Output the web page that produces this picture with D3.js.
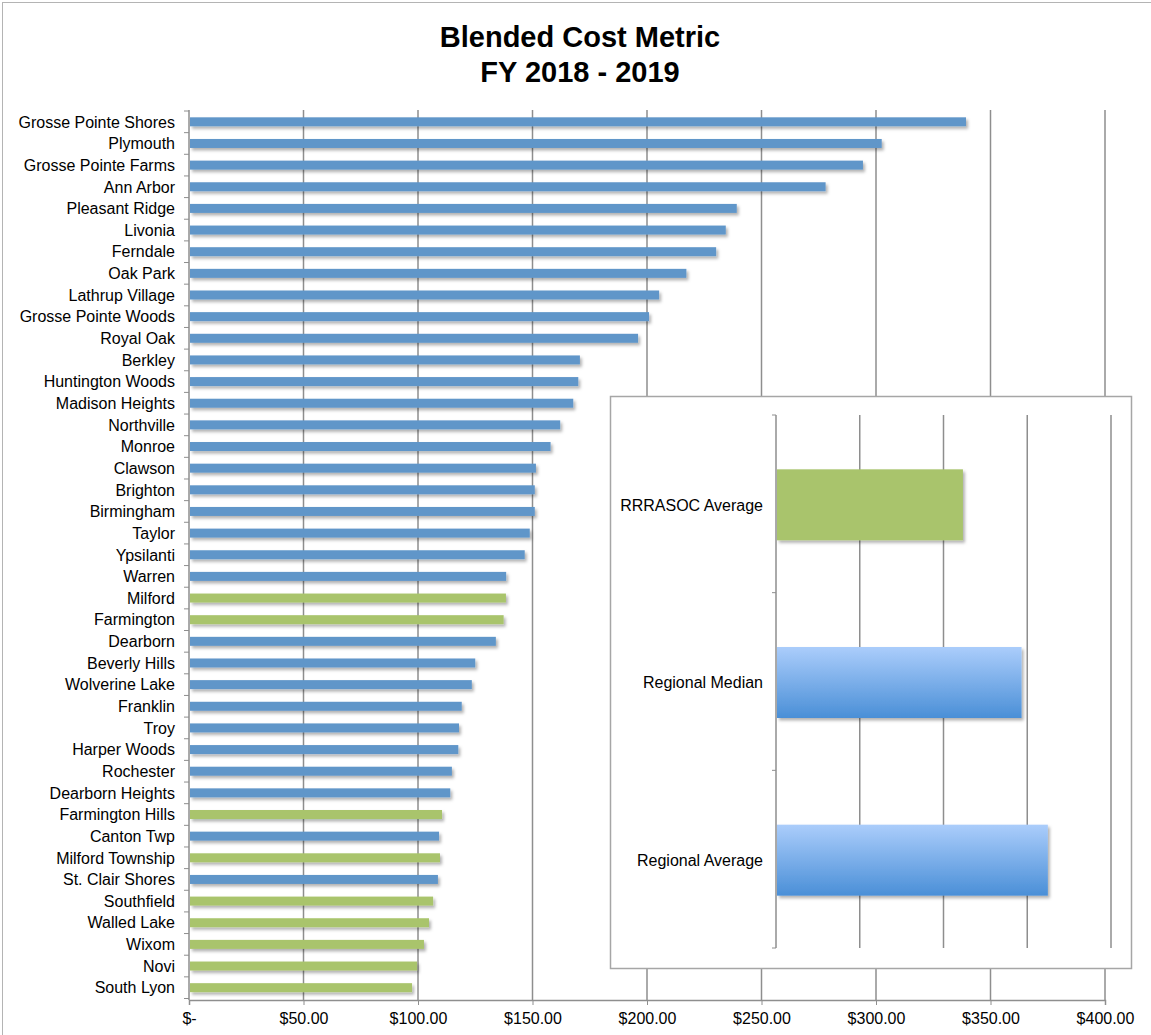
<!DOCTYPE html>
<html>
<head>
<meta charset="utf-8">
<script src="https://cdn.jsdelivr.net/npm/d3@7"></script>
<style>
  body { margin: 0; background: #fff; }
  text { font-family: "Liberation Sans", Arial, sans-serif; fill: #000; }
</style>
</head>
<body>
<div id="chart"></div>
<script>
var width = 1151;
var height = 1035;

// main chart data (top to bottom)
var cities = [
	"Grosse Pointe Shores", "Plymouth", "Grosse Pointe Farms", "Ann Arbor", "Pleasant Ridge",
	"Livonia", "Ferndale", "Oak Park", "Lathrup Village", "Grosse Pointe Woods",
	"Royal Oak", "Berkley", "Huntington Woods", "Madison Heights", "Northville",
	"Monroe", "Clawson", "Brighton", "Birmingham", "Taylor",
	"Ypsilanti", "Warren", "Milford", "Farmington", "Dearborn",
	"Beverly Hills", "Wolverine Lake", "Franklin", "Troy", "Harper Woods",
	"Rochester", "Dearborn Heights", "Farmington Hills", "Canton Twp", "Milford Township",
	"St. Clair Shores", "Southfield", "Walled Lake", "Wixom", "Novi", "South Lyon"
];
var costs = [
	339.3, 302.5, 294.3, 278.0, 239.2,
	234.4, 230.2, 217.2, 205.3, 200.9,
	196.1, 170.7, 170.0, 167.8, 162.1,
	157.9, 151.5, 151.0, 151.0, 148.8,
	146.6, 138.5, 138.4, 137.4, 134.0,
	125.0, 123.5, 119.1, 117.9, 117.6,
	114.8, 114.1, 110.5, 109.2, 109.6,
	108.7, 106.6, 104.8, 102.6, 99.6, 97.4
];
// RRRASOC members are drawn green
var members = ["Milford", "Farmington", "Farmington Hills", "Milford Township",
	"Southfield", "Walled Lake", "Wixom", "Novi", "South Lyon"];
var xTicks = [0, 50, 100, 150, 200, 250, 300, 350, 400];

// inset chart data
var summaryLabels = ["RRRASOC Average", "Regional Median", "Regional Average"];
var summaryValues = [111.6, 146.6, 162.3];
var insetTicks = [0, 50, 100, 150, 200];

var blue = "#6096c9";
var green = "#a9c46c";
var grid = "#8e8e8e";

var svg = d3.select("#chart")
	.append("svg")
	.attr("width", width)
	.attr("height", height);

var defs = svg.append("defs");
defs.append("filter")
	.attr("id", "shadow")
	.attr("x", "-5%").attr("y", "-50%")
	.attr("width", "115%").attr("height", "250%")
	.append("feDropShadow")
	.attr("dx", 2).attr("dy", 2.5)
	.attr("stdDeviation", 1.5)
	.attr("flood-color", "#000")
	.attr("flood-opacity", 0.3);

var grad = defs.append("linearGradient")
	.attr("id", "blueGrad")
	.attr("x1", 0).attr("y1", 0).attr("x2", 0).attr("y2", 1);
grad.append("stop").attr("offset", "0%").attr("stop-color", "#abcdfb");
grad.append("stop").attr("offset", "100%").attr("stop-color", "#4a8fd7");

// outer frame
svg.append("rect")
	.attr("x", 2.5).attr("y", 2.5)
	.attr("width", 1150).attr("height", 1040)
	.attr("fill", "#fff")
	.attr("stroke", "#b4b4b4")
	.attr("stroke-width", 1);

// title
svg.append("text")
	.attr("x", 580).attr("y", 47)
	.attr("text-anchor", "middle")
	.style("font-size", "29px").style("font-weight", "bold")
	.text("Blended Cost Metric");
svg.append("text")
	.attr("x", 580).attr("y", 82)
	.attr("text-anchor", "middle")
	.style("font-size", "29px").style("font-weight", "bold")
	.text("FY 2018 - 2019");

// ---- main chart ----
var plotLeft = 189, plotRight = 1105, plotTop = 111, plotBottom = 1000;

var x = d3.scaleLinear().domain([0, 400]).range([plotLeft, plotRight]);
var y = d3.scaleBand().domain(cities).range([plotTop, plotBottom - 1.5]).padding(0);

var main = svg.append("g");

main.selectAll(".grid")
	.data(xTicks.slice(1))
	.enter()
	.append("line")
	.attr("x1", function(d){ return x(d); })
	.attr("x2", function(d){ return x(d); })
	.attr("y1", plotTop - 1)
	.attr("y2", plotBottom)
	.attr("stroke", grid)
	.attr("stroke-width", 1.5);

var xAxis = d3.axisBottom(x)
	.tickValues(xTicks)
	.tickSize(5)
	.tickPadding(8)
	.tickFormat(function(d){ return d === 0 ? "$-" : "$" + d3.format(".2f")(d); });

var gx = main.append("g")
	.attr("transform", "translate(0," + plotBottom + ")")
	.call(xAxis);
gx.select(".domain").attr("stroke", grid).attr("stroke-width", 1.5);
gx.selectAll(".tick line").attr("stroke", grid);
gx.selectAll(".tick text").style("font-size", "16px").attr("fill", "#000");

// y axis: ticks sit on band boundaries
var gy = main.append("g");
gy.append("line")
	.attr("x1", plotLeft).attr("x2", plotLeft)
	.attr("y1", plotTop - 1).attr("y2", plotBottom)
	.attr("stroke", grid).attr("stroke-width", 1.5);
gy.selectAll(".ytick")
	.data(cities)
	.enter()
	.append("line")
	.attr("x1", plotLeft - 5).attr("x2", plotLeft)
	.attr("y1", function(d){ return y(d); })
	.attr("y2", function(d){ return y(d); })
	.attr("stroke", grid);
gy.append("line")
	.attr("x1", plotLeft - 5).attr("x2", plotLeft)
	.attr("y1", plotBottom - 1.5).attr("y2", plotBottom - 1.5)
	.attr("stroke", grid);
gy.selectAll(".ylabel")
	.data(cities)
	.enter()
	.append("text")
	.attr("x", plotLeft - 14)
	.attr("y", function(d){ return y(d) + y.bandwidth() / 2; })
	.attr("dy", "0.36em")
	.attr("text-anchor", "end")
	.style("font-size", "16px")
	.text(function(d){ return d; });

var barH = 9;
main.selectAll(".bar")
	.data(cities)
	.enter()
	.append("rect")
	.attr("class", "bar")
	.attr("x", x(0) + 1)
	.attr("y", function(d){ return y(d) + y.bandwidth() / 2 - barH / 2; })
	.attr("width", function(d, i){ return x(costs[i]) - x(0) - 1; })
	.attr("height", barH)
	.attr("fill", function(d){ return members.indexOf(d) >= 0 ? green : blue; })
	.attr("filter", "url(#shadow)");

// ---- inset chart ----
var box = { x: 610.5, y: 396.5, w: 521, h: 572 };
svg.append("rect")
	.attr("x", box.x).attr("y", box.y)
	.attr("width", box.w).attr("height", box.h)
	.attr("fill", "#fff")
	.attr("stroke", "#a6a6a6")
	.attr("stroke-width", 1.5);

var iLeft = 776, iRight = 1111, iTop = 415, iBottom = 948;
var ix = d3.scaleLinear().domain([0, 200]).range([iLeft, iRight]);
var iy = d3.scaleBand().domain(summaryLabels).range([iTop, iBottom]).padding(0);

var inset = svg.append("g");
inset.selectAll(".igrid")
	.data(insetTicks.slice(1))
	.enter()
	.append("line")
	.attr("x1", function(d){ return ix(d); })
	.attr("x2", function(d){ return ix(d); })
	.attr("y1", iTop).attr("y2", iBottom)
	.attr("stroke", grid).attr("stroke-width", 1.5);

inset.append("line")
	.attr("x1", iLeft).attr("x2", iLeft)
	.attr("y1", iTop).attr("y2", iBottom)
	.attr("stroke", grid).attr("stroke-width", 1.5);
inset.selectAll(".itick")
	.data(summaryLabels.concat(["end"]))
	.enter()
	.append("line")
	.attr("x1", iLeft - 4).attr("x2", iLeft)
	.attr("y1", function(d, i){ return iTop + i * iy.bandwidth(); })
	.attr("y2", function(d, i){ return iTop + i * iy.bandwidth(); })
	.attr("stroke", grid);

var iBarH = 71;
inset.selectAll(".ibar")
	.data(summaryLabels)
	.enter()
	.append("rect")
	.attr("x", iLeft + 1)
	.attr("y", function(d){ return iy(d) + iy.bandwidth() / 2 - iBarH / 2 + 1; })
	.attr("width", function(d, i){ return ix(summaryValues[i]) - iLeft - 1; })
	.attr("height", iBarH)
	.attr("fill", function(d, i){ return i === 0 ? green : "url(#blueGrad)"; })
	.attr("filter", "url(#shadow)");

inset.selectAll(".ilabel")
	.data(summaryLabels)
	.enter()
	.append("text")
	.attr("x", iLeft - 13)
	.attr("y", function(d){ return iy(d) + iy.bandwidth() / 2 + 1; })
	.attr("dy", "0.36em")
	.attr("text-anchor", "end")
	.style("font-size", "16px")
	.text(function(d){ return d; });
</script>
</body>
</html>
